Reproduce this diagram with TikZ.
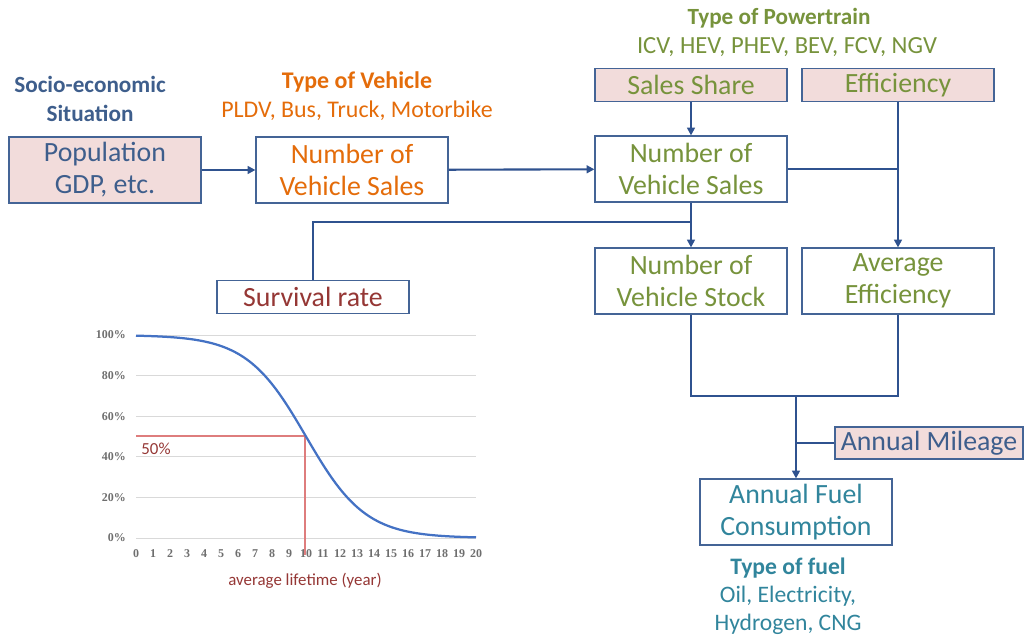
\documentclass[tikz,border=0pt]{standalone}
\usepackage{fontspec}
\setmainfont{Carlito}
\newfontfamily\tickfont{Liberation Serif}
\usetikzlibrary{arrows.meta}

\definecolor{lineblue}{RGB}{47,82,143}
\definecolor{boxedge}{RGB}{68,100,150}
\definecolor{pinkfill}{RGB}{242,220,219}
\definecolor{socioblue}{RGB}{62,94,140}
\definecolor{vehorange}{RGB}{228,108,10}
\definecolor{ptgreen}{RGB}{119,147,60}
\definecolor{survred}{RGB}{149,55,53}
\definecolor{fuelteal}{RGB}{49,133,156}
\definecolor{curveblue}{RGB}{68,114,196}
\definecolor{markred}{RGB}{222,125,125}
\definecolor{gridgrey}{RGB}{217,217,217}
\definecolor{tickgrey}{RGB}{110,110,110}

\begin{document}
\begin{tikzpicture}[x=0.025cm, y=-0.025cm,
	>={Triangle[length=5.5pt,width=5.5pt]},
	flow/.style={draw=lineblue, line width=1.5pt},
	box/.style={draw=boxedge, line width=0.8pt, fill=white, minimum width=4.8cm, minimum height=1.65cm, inner sep=0pt, align=center, font=\fontsize{19.8}{22.8}\selectfont},
	inbox/.style={box, fill=pinkfill, minimum height=0.825cm},
	title/.style={align=center, inner sep=0pt, font=\fontsize{17}{20.6}\selectfont},
	tick/.style={inner sep=0pt, text=tickgrey, font=\tickfont\bfseries\fontsize{8.5}{10}\selectfont}]
	\useasboundingbox (0,0) rectangle (1025,638);

	% titles
	\node[title, text=socioblue, font=\bfseries\fontsize{16.5}{20.6}\selectfont] (socio) at (90,99) {Socio-economic\\Situation};
	\node[title, text=vehorange] (vtype) at (357,96) {\textbf{Type of Vehicle}\\PLDV, Bus, Truck, Motorbike};
	\node[title, text=ptgreen, font=\bfseries\fontsize{16.5}{20.6}\selectfont] (pttitle) at (779,18) {Type of Powertrain};
	\node[title, text=ptgreen, font=\fontsize{17.5}{20.6}\selectfont] (ptlist) at (787,47) {ICV, HEV, PHEV, BEV, FCV, NGV};
	\node[title, text=fuelteal, font=\fontsize{16.8}{20}\selectfont] (ftype) at (788,596) {\textbf{Type of fuel}\\Oil, Electricity,\\Hydrogen, CNG};

	% boxes
	\node[box, fill=pinkfill, text=socioblue] (pop) at (105,170) {Population\\GDP, etc.};
	\node[box, text=vehorange] (vsales) at (352,170) {Number of\\Vehicle Sales};
	\node[inbox, text=ptgreen] (share) at (691,85) {Sales Share};
	\node[inbox, text=ptgreen] (eff) at (898,85) {Efficiency};
	\node[box, text=ptgreen] (psales) at (691,169) {Number of\\Vehicle Sales};
	\node[box, text=ptgreen] (stock) at (691,281) {Number of\\Vehicle Stock};
	\node[box, text=ptgreen] (avgeff) at (898,281) {Average\\Efficiency};
	\node[inbox, fill=white, text=survred] (surv) at (313,297) {Survival rate};
	\node[inbox, minimum width=4.7cm, minimum height=0.8cm, text=socioblue] (mileage) at (929,443) {Annual Mileage};
	\node[box, text=fuelteal] (fuel) at (796,512) {Annual Fuel\\Consumption};

	% connectors
	\coordinate (survjoin) at (691,222);
	\coordinate (fueljoin) at (796,396);
	\draw[flow,->] (pop) -- (vsales);
	\draw[flow,->] (vsales) -- (psales);
	\draw[flow,->] (share) -- (psales);
	\draw[flow,->] (eff) -- (avgeff);
	\draw[flow] (psales.east) -- (psales.east -| eff);
	\draw[flow,->] (psales) -- (stock);
	\draw[flow] (surv) |- (survjoin);
	\draw[flow] (stock.south) |- (fueljoin) -| (avgeff.south);
	\draw[flow,->] (fueljoin) -- (fuel);
	\draw[flow] (mileage) -- (mileage -| fuel);

	% survival curve
	\foreach \p in {0,20,...,100}{
		\draw[gridgrey, line width=0.6pt] (136,{538-2.03*\p}) -- (476,{538-2.03*\p});
		\node[tick, anchor=east] at (126,{538-2.03*\p}) {\p\%};
	}
	\foreach \t in {0,...,20}
		\node[tick] at ({136+17*\t},554) {\t};
	\draw[markred, line width=0.9pt] (136,436) -- (305,436) -- (305,555);
	\node[text=survred, font=\fontsize{12}{14}\selectfont] (half) at (156,449) {50\%};
	\draw[curveblue, line width=1.6pt] plot[domain=0:20, samples=81, smooth] ({136+17*\x},{538-203/(1+exp((\x-10)/1.75))});
	\node[text=survred, font=\fontsize{12}{14}\selectfont] (xlabel) at (305,581) {average lifetime (year)};
\end{tikzpicture}
\end{document}
